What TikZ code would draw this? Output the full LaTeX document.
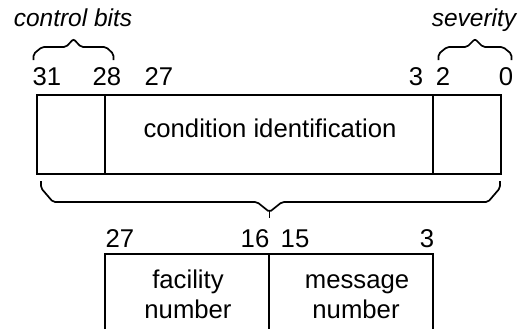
\documentclass[tikz,border=0pt]{standalone}
\usepackage{fontspec}
\setmainfont{Liberation Sans}
\begin{document}
\begin{tikzpicture}[x=1pt,y=-1pt,
  lbl/.style={anchor=base,inner sep=0pt,font=\fontsize{25.7}{30}\selectfont},
  ilbl/.style={lbl,font=\fontsize{24.5}{28}\selectfont\itshape},
  box/.style={line width=1.7pt},
  brace/.style={line width=1.7pt,rounded corners=2pt}]
\useasboundingbox (0,0) rectangle (521,329);
% top register
\draw[box] (37,95) rectangle (501,174);
\draw[box] (105,95) -- (105,174);
\draw[box] (433,95) -- (433,174);
\node[lbl] (cid) at (270,137) {condition identification};
% top bit numbers
\node[lbl] (b31) at (47,85) {31};
\node[lbl] (b28) at (107,85) {28};
\node[lbl] (b27) at (159,85) {27};
\node[lbl] (b3) at (416,85) {3};
\node[lbl] (b2) at (443,85) {2};
\node[lbl] (b0) at (506,85) {0};
% field labels
\node[ilbl] (ctl) at (73,27) {control bits};
\node[ilbl] (sev) at (474,27) {severity};
% small braces
\draw[brace] (33.5,60) -- (33.5,54) -- (42,47) -- (66,47) -- (73.5,39) -- (81,47) -- (106,47) -- (113.5,54) -- (113.5,60);
\draw[brace] (438.5,60) -- (438.5,54) -- (447,47) -- (467,47) -- (475,39) -- (483,47) -- (503,47) -- (511.5,54) -- (511.5,60);
% big brace
\draw[brace] (41,181) -- (41,188) -- (53,202) -- (257,202) -- (269.5,212) -- (282,202) -- (488,202) -- (500,188) -- (500,181);
\draw[line width=1.7pt] (269.5,211) -- (269.5,218);
% bottom register
\draw[box] (105,329) -- (105,254) -- (433,254) -- (433,329);
\draw[box] (269,254) -- (269,329);
\node[lbl] (c27) at (120,247) {27};
\node[lbl] (c16) at (255,247) {16};
\node[lbl] (c15) at (295,247) {15};
\node[lbl] (c3) at (427,247) {3};
\node[lbl] (fac) at (188,288) {facility};
\node[lbl] (fnum) at (188,318) {number};
\node[lbl] (msg) at (357,288) {message};
\node[lbl] (mnum) at (356,318) {number};
\end{tikzpicture}
\end{document}
